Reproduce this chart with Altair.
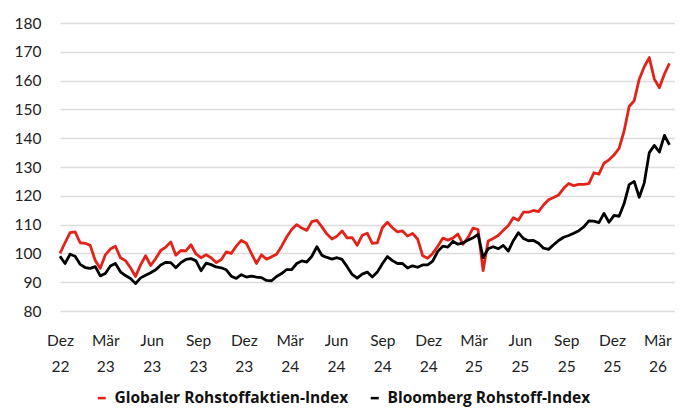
import json
import pandas as pd
import altair as alt

START = "2022-12-01"
STEP_DAYS = 10

red_name = "Globaler Rohstoffaktien-Index"
black_name = "Bloomberg Rohstoff-Index"

red_vals = [
    100, 103.7, 107.2, 107.5, 103.7, 103.5, 102.8, 97.5, 94.8, 99.5,
    101.5, 102.5, 98.5, 97.5, 95, 92, 96, 99.2, 95.8, 98.2,
    101, 102.2, 104, 99.4, 101, 100.9, 103, 99.8, 98.5, 99.5,
    98.5, 96.8, 97.8, 100.5, 100, 102.5, 104.5, 103.5, 100, 96.5,
    99.5, 98, 98.8, 99.7, 102.5, 105.7, 108.3, 110, 108.8, 108,
    111, 111.5, 109.2, 106.7, 105, 106, 107.8, 105.4, 105.5, 102.8,
    106.3, 107, 103.5, 103.7, 108.9, 110.8, 108.9, 107.5, 107.8, 106,
    106.9, 105, 99.2, 98.3, 100, 102.5, 105.3, 104.6, 105.3, 106.7,
    103.2, 105.5, 108.8, 108.3, 94, 104.3, 105.2, 106.2, 108, 109.6,
    112.4, 111.5, 114.3, 114.3, 114.9, 114.5, 116.8, 118.6, 119.4, 120.3,
    122.6, 124.3, 123.5, 124, 124, 124.2, 128, 127.5, 131.3, 132.5,
    134.2, 136.5, 142.5, 151, 153, 160.5, 164.8, 168, 160.5, 157.5,
    162.3, 166,
]

black_vals = [
    99, 96.5, 99.7, 99, 96.2, 95.1, 94.8, 95.4, 92.2, 93,
    95.6, 96.5, 93.6, 92.3, 91.3, 89.5, 91.5, 92.4, 93.3, 94.3,
    96, 96.9, 96.8, 95, 96.8, 97.9, 98.2, 97.4, 94, 96.6,
    96.1, 95.3, 95, 94.3, 92.1, 91.3, 92.6, 91.8, 92.1, 91.8,
    91.6, 90.6, 90.5, 92, 93, 94.4, 94.4, 96.5, 97.4, 97,
    99, 102.3, 99.3, 98.6, 98, 98.5, 97.9, 95.4, 92.7, 91.4,
    92.8, 93.5, 91.8, 93.5, 96.4, 98.9, 97.5, 96.5, 96.5, 94.9,
    95.7, 95.2, 96, 96, 97.3, 100.7, 102.5, 102.2, 104.2, 103.2,
    103.6, 104.6, 105.4, 106.6, 98.5, 101.6, 102.3, 101.6, 102.8, 100.8,
    104.4, 107.2, 105.2, 104.4, 104.5, 103.5, 101.8, 101.4, 103, 104.5,
    105.6, 106.2, 107, 107.9, 109.2, 111.3, 111.2, 110.7, 113.9, 110.8,
    113.2, 112.9, 117.3, 123.9, 125, 119.5, 124.5, 135, 137.5, 135.2,
    141, 137.7,
]

tick_dates = ["2022-12-01", "2023-03-01", "2023-06-01", "2023-09-01", "2023-12-01",
              "2024-03-01", "2024-06-01", "2024-09-01", "2024-12-01", "2025-03-01",
              "2025-06-01", "2025-09-01", "2025-12-01", "2026-03-01"]
tick_months = ["Dez", "Mär", "Jun", "Sep", "Dez", "Mär", "Jun", "Sep", "Dez", "Mär",
               "Jun", "Sep", "Dez", "Mär"]
tick_years = ["22", "23", "23", "23", "23", "24", "24", "24", "24", "25",
              "25", "25", "25", "26"]
y_ticks = [80, 90, 100, 110, 120, 130, 140, 150, 160, 170, 180]

start = pd.Timestamp(START)
dates = pd.date_range(START, periods=len(red_vals), freq=f"{STEP_DAYS}D")
days = [(d - start).days for d in dates]
tick_days = [(pd.Timestamp(t) - start).days for t in tick_dates]
end_day = (pd.Timestamp("2026-03-31") - start).days

rows = []
for dd, v in zip(days, red_vals):
    rows.append({"day": dd, "value": v, "series": red_name})
for dd, v in zip(days, black_vals):
    rows.append({"day": dd, "value": v, "series": black_name})
df = pd.DataFrame(rows)

label_expr = "[{m}[indexof({t}, datum.value)], {y}[indexof({t}, datum.value)]]".format(
    m=json.dumps(tick_months, ensure_ascii=False),
    y=json.dumps(tick_years),
    t=json.dumps(tick_days),
)

FONT = "Lato"

chart = alt.Chart(df).mark_line(strokeWidth=2.8, strokeJoin="round").encode(
    x=alt.X("day:Q",
            scale=alt.Scale(domain=[0, end_day + 5], nice=False, zero=False),
            axis=alt.Axis(values=tick_days, labelExpr=label_expr, title=None,
                          grid=False, domain=False, ticks=False,
                          labelFont=FONT, labelFontSize=15.5, labelColor="#222222",
                          labelPadding=22, labelLineHeight=26, labelOverlap=False,
                          labelAlign="center")),
    y=alt.Y("value:Q",
            scale=alt.Scale(domain=[80, 180], nice=False, zero=False),
            axis=alt.Axis(values=y_ticks, title=None, domain=False, ticks=False,
                          grid=True, gridColor="#dcdcdc", gridWidth=1.5,
                          labelFont=FONT, labelFontSize=15.5, labelColor="#222222",
                          labelPadding=19)),
    color=alt.Color("series:N",
                    scale=alt.Scale(domain=[red_name, black_name],
                                    range=["#e2231a", "#000000"]),
                    legend=alt.Legend(title=None, orient="none", legendX=34, legendY=367,
                                      direction="horizontal", symbolType="stroke",
                                      symbolSize=64, symbolStrokeWidth=2.5,
                                      labelFont="Open Sans", labelFontSize=15.5,
                                      labelFontWeight="bold", labelColor="#111111",
                                      labelLimit=0, labelOffset=5, columnPadding=16)),
    order=alt.Order("day:Q"),
).properties(
    width=615,
    height=288,
    autosize=alt.AutoSizeParams(type="none"),
    padding={"left": 52, "top": 15, "right": 0, "bottom": 97},
).configure_view(stroke=None)

chart.save("out.html", embed_options={"renderer": "svg", "actions": False})
